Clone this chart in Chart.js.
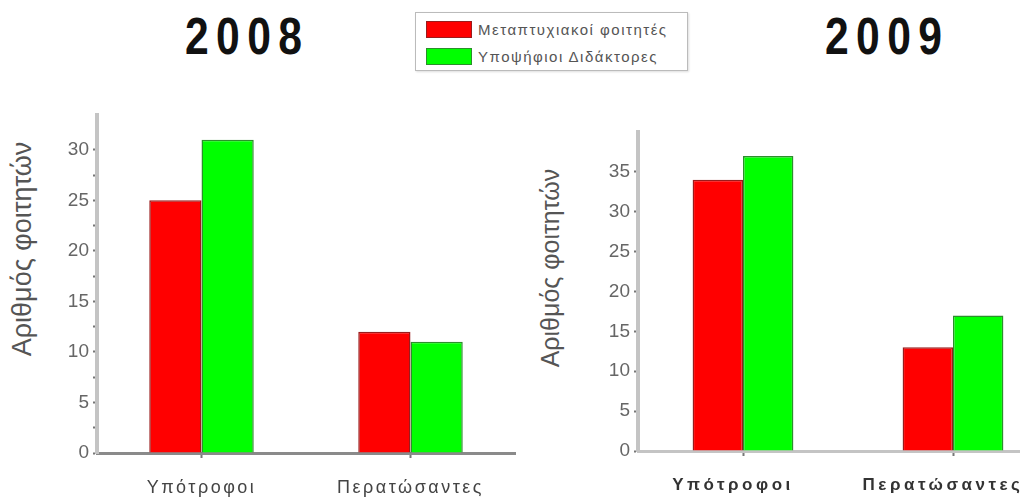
<!DOCTYPE html>
<html>
<head>
<meta charset="utf-8">
<script src="https://cdn.jsdelivr.net/npm/chart.js@4.4.1/dist/chart.umd.min.js"></script>
<style>
  body { margin: 0; width: 1020px; height: 499px; overflow: hidden; background: #fff; position: relative;
         font-family: 'Liberation Sans', Arial, sans-serif; }
  .year { position: absolute; top: 6px; font-weight: bold; font-size: 52px; letter-spacing: 9px; color: #111;
          transform: scaleX(0.82); transform-origin: left top; white-space: nowrap; }
  .ytitle { position: absolute; white-space: nowrap; line-height: 1; color: #555;
            transform: translate(-50%, -50%) rotate(-90deg); }
  .box { position: absolute; top: 100px; height: 399px; }
  #legend { position: absolute; left: 415px; top: 12px; width: 271px; height: 57px; border: 1px solid #bbb;
            box-shadow: 1px 1px 2px #ddd; font-size: 15px; letter-spacing: 1.5px; color: #555; }
  #legend div { display: flex; align-items: center; height: 22px; margin-top: 5px; margin-left: 10px; white-space: nowrap; }
  #legend span.sw { display: inline-block; width: 46px; height: 17px; margin-right: 6px; box-sizing: border-box; }
</style>
</head>
<body>
<div class="year" style="left:185px">2008</div>
<div class="year" style="left:825px">2009</div>
<div id="legend"></div>
<div class="ytitle" id="t2008" style="left:22px;top:249px;font-size:27px"></div>
<div class="ytitle" id="t2009" style="left:550px;top:268px;font-size:25px"></div>
<div class="box" style="left:0;width:520px"><canvas id="c2008"></canvas></div>
<div class="box" style="left:520px;width:560px"><canvas id="c2009"></canvas></div>
<script>
const categories = ['Υπότροφοι', 'Περατώσαντες'];
const seriesNames = ['Μεταπτυχιακοί φοιτητές', 'Υποψήφιοι Διδάκτορες'];
const masters2008 = [25, 12];
const phd2008 = [31, 11];
const masters2009 = [34, 13];
const phd2009 = [37, 17];
const yLabels2008 = [0, 5, 10, 15, 20, 25, 30];
const yLabels2009 = [0, 5, 10, 15, 20, 25, 30, 35];
const yAxisTitle = 'Αριθμός φοιτητών';

const fills = ['#ff0000', '#00ff00'];
const edges = ['#9a1c1c', '#2b8f2b'];

Chart.defaults.font.family = "'Liberation Sans', Arial, sans-serif";

// legend box and axis titles sit outside the canvases
const legend = document.getElementById('legend');
seriesNames.forEach((name, i) => {
  const row = document.createElement('div');
  row.innerHTML = '<span class="sw" style="background:' + fills[i] + ';border:1px solid ' + edges[i] + '"></span>' + name;
  legend.appendChild(row);
});
document.getElementById('t2008').textContent = yAxisTitle;
document.getElementById('t2009').textContent = yAxisTitle;

// wide letter spacing for the category labels only;
// y tick labels are drawn later (ticks.z = 1), after the spacing is reset
const spacing = {
  id: 'spacing',
  beforeDraw(chart, args, o) { chart.ctx.letterSpacing = o.px + 'px'; },
  afterDatasetsDraw(chart) { chart.ctx.letterSpacing = '0px'; }
};

function makeChart(id, a, b, opts) {
  return new Chart(document.getElementById(id), {
    type: 'bar',
    plugins: [spacing],
    data: {
      labels: categories,
      datasets: [
        { label: seriesNames[0], data: a, backgroundColor: fills[0], borderColor: edges[0], borderWidth: 1.5 },
        { label: seriesNames[1], data: b, backgroundColor: fills[1], borderColor: edges[1], borderWidth: 1.5 }
      ]
    },
    options: {
      responsive: true,
      maintainAspectRatio: false,
      animation: false,
      datasets: { bar: { categoryPercentage: opts.catPct, barPercentage: 1 } },
      layout: { padding: { top: opts.padTop, right: opts.padRight, left: 0, bottom: 0 } },
      plugins: { legend: { display: false }, tooltip: { enabled: false }, spacing: { px: opts.letter } },
      scales: {
        x: {
          offset: true,
          grid: { drawOnChartArea: false, offset: false, tickLength: 5, tickColor: '#777', tickWidth: 2 },
          border: { color: opts.xAxisColor, width: 3 },
          ticks: { font: opts.xFont, color: opts.xColor, padding: 19, labelOffset: opts.labelOffset },
          afterFit: s => { s.height = opts.xHeight; }
        },
        y: {
          min: 0,
          max: opts.max,
          afterBuildTicks: s => { s.ticks = s.ticks.filter(t => t.value % 2.5 === 0 && t.value < opts.max); },
          grid: { drawOnChartArea: false, tickLength: 4, tickColor: '#777', tickWidth: 2 },
          border: { color: '#c4c4c4', width: 4 },
          ticks: {
            z: 1,
            stepSize: 2.5,
            font: { size: 19 },
            color: '#666',
            padding: 4,
            callback: v => opts.labels.includes(v) ? String(v) : ''
          },
          afterFit: s => { s.width = opts.yWidth; }
        }
      }
    }
  });
}

makeChart('c2008', masters2008, phd2008, {
  max: 33.4, labels: yLabels2008, catPct: 0.5, padTop: 15, padRight: 5,
  xHeight: 46, yWidth: 97, xAxisColor: '#8a8a8a', letter: 2.5,
  xFont: { size: 18 }, xColor: '#444', labelOffset: 0
});
makeChart('c2009', masters2009, phd2009, {
  max: 40, labels: yLabels2009, catPct: 0.48, padTop: 32, padRight: 22,
  xHeight: 48, yWidth: 118, xAxisColor: '#c4c4c4', letter: 3.5,
  xFont: { size: 17, weight: 'bold' }, xColor: '#333', labelOffset: -10
});
</script>
</body>
</html>
